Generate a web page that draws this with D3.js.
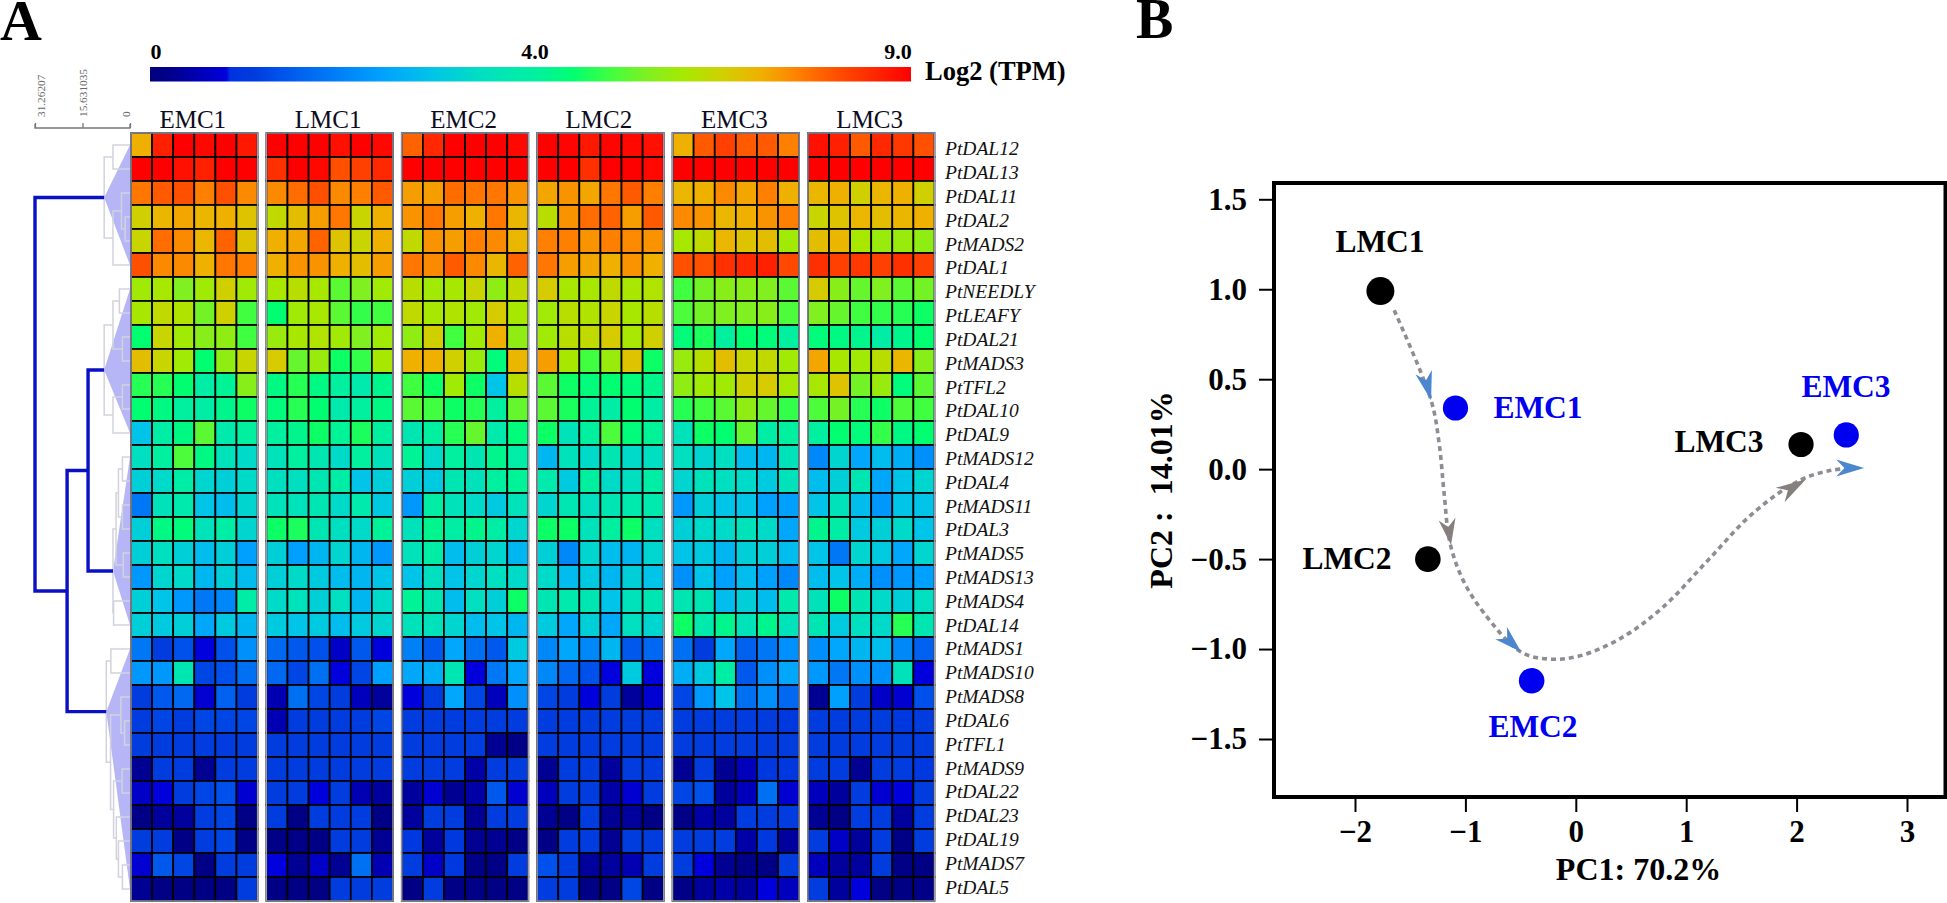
<!DOCTYPE html>
<html>
<head>
<meta charset="utf-8">
<title>Heatmap and PCA</title>
<script src="https://cdn.jsdelivr.net/npm/d3@7"></script>
<style>
  html, body { margin: 0; padding: 0; background: #fff; overflow: hidden; }
  text { font-family: "Liberation Serif", serif; }
</style>
</head>
<body>
<svg id="chart" width="1947" height="903"></svg>
<script>
const genes = ['PtDAL12', 'PtDAL13', 'PtDAL11', 'PtDAL2', 'PtMADS2', 'PtDAL1', 'PtNEEDLY', 'PtLEAFY', 'PtDAL21',
  'PtMADS3', 'PtTFL2', 'PtDAL10', 'PtDAL9', 'PtMADS12', 'PtDAL4', 'PtMADS11', 'PtDAL3', 'PtMADS5', 'PtMADS13',
  'PtMADS4', 'PtDAL14', 'PtMADS1', 'PtMADS10', 'PtMADS8', 'PtDAL6', 'PtTFL1', 'PtMADS9', 'PtDAL22', 'PtDAL23',
  'PtDAL19', 'PtMADS7', 'PtDAL5'];
const stages = ['EMC1', 'LMC1', 'EMC2', 'LMC2', 'EMC3', 'LMC3'];
const replicates = [0, 1, 2, 3, 4, 5];

// log2(TPM), one line per gene, 6 replicates per stage
const tpm = [
  [7, 8.6, 9, 8.9, 9, 8.7, 9, 9, 9, 8.8, 9, 8.9, 7.8, 8.5, 9, 9, 9, 8.9, 9, 8.95, 8.7, 8.95, 8.9, 8.8, 7, 7.9, 8.2, 7.9, 7.9, 7.5, 8.8, 8.6, 7.9, 8.5, 8.3, 8],
  [9, 9, 8.8, 8.6, 9, 9, 8.4, 9, 8.9, 8, 8.2, 8.5, 9, 9, 9, 9, 9, 9, 9, 9, 8.4, 9, 9, 8.9, 9, 9, 9, 9, 9, 9, 9, 9, 9, 9, 9, 9],
  [7.6, 7.9, 8, 7.5, 8, 7.4, 7.4, 7.7, 8, 7.4, 7.5, 7.9, 7.2, 7.2, 7.7, 7.6, 7.6, 7.3, 7.1, 7.3, 7.1, 7.6, 7.9, 7.5, 6.9, 7, 7.4, 7.1, 7.5, 7, 6.9, 7, 6.5, 6.9, 7, 6.5],
  [6.5, 6.9, 7.1, 6.9, 7, 6.7, 6.3, 6.8, 7.2, 7.6, 6.4, 7, 7.3, 7.6, 7.2, 7, 7.6, 6.9, 6.2, 7.3, 7.7, 7.8, 7.2, 7.9, 7.4, 7.3, 6.9, 7, 7.3, 7.5, 6.4, 6.7, 6.9, 6.8, 6.9, 7],
  [6.4, 7.7, 7.4, 6.9, 7.8, 6.7, 7, 7.1, 7.8, 6.7, 6.4, 7, 6.3, 7.3, 7.2, 7.5, 7.4, 6.9, 7.5, 7.5, 7.3, 7.5, 7.4, 7.3, 6, 6.3, 6.9, 6.7, 6.8, 5.9, 6.8, 6.9, 6, 5.8, 5.8, 5.7],
  [8, 7.4, 7.4, 7, 7.6, 7.5, 7, 7.3, 7.3, 7, 6.8, 7.2, 7.6, 7.4, 7.9, 7.4, 6.9, 7.8, 7.6, 7.2, 7.1, 7, 7.3, 7, 8, 8, 8.4, 8.5, 8.6, 8.1, 8.4, 8.2, 8.3, 8.2, 8.4, 8.2],
  [5.9, 6, 5.5, 5.9, 6.5, 5.9, 6, 6.2, 6, 5.2, 5.5, 5.9, 6.2, 5.9, 6, 6.4, 5.7, 6.3, 6.6, 6, 6, 6.3, 6, 6.1, 5, 5.4, 5.6, 5.6, 5.5, 5.2, 6.6, 5.6, 5.3, 5.5, 5.2, 5.4],
  [6, 6.3, 6.1, 5.4, 6.5, 5, 4.5, 5.9, 6, 5.2, 4.9, 5, 6.3, 6, 6.1, 5.9, 6.6, 6, 5.9, 6.2, 6.1, 6.4, 6, 6.2, 5.1, 5.4, 5.5, 5.5, 5.6, 5.1, 5.5, 5.3, 5, 4.9, 4.8, 4.6],
  [4.5, 6.4, 5.9, 5.6, 5.7, 5, 5.8, 6, 6.1, 5.9, 5.5, 5.9, 5.7, 6.5, 5, 5.9, 7, 5.7, 5.9, 6.2, 6.3, 6.6, 6, 6.5, 4.4, 4.7, 4, 4.5, 4.4, 4, 4.4, 4.3, 4.2, 3.9, 4.2, 4.5],
  [6.8, 6.4, 5.9, 4.5, 5.7, 6.4, 6.6, 5.3, 5.8, 4.6, 4.9, 6, 7, 7, 6.5, 5.8, 4.4, 6.9, 7.2, 6, 5, 5.8, 6.7, 4.6, 5.8, 6.2, 6.8, 6.4, 6.3, 5.9, 7.1, 6, 5.9, 6.2, 6.9, 5.6],
  [4.8, 4.8, 4.5, 3.9, 4.1, 5.6, 4.3, 4.8, 4.3, 4, 3.8, 4.2, 5, 4.6, 5.9, 4.6, 3, 6.2, 5.2, 4.6, 4.4, 4.5, 4.4, 4.2, 5.7, 5.9, 5.9, 6.5, 6.6, 6, 6, 6.7, 5.4, 5.8, 4.4, 5.2],
  [4.5, 4.3, 4, 3.9, 4.2, 4.6, 4.4, 4.8, 4.5, 3.8, 4, 4.3, 5.2, 5, 4.6, 4.8, 4, 5.3, 5.2, 4.7, 4.1, 3.9, 4.5, 3.9, 4.8, 5, 5.2, 5.7, 5.3, 4.9, 5.1, 5.4, 4.8, 4.6, 5.1, 5],
  [3, 3.9, 4.3, 5.2, 3.8, 4, 4, 4.2, 4.6, 4.1, 4.7, 4, 3.7, 4, 4.8, 5.3, 3.8, 4.4, 4.6, 3.6, 4, 5.1, 4.4, 4.1, 3.6, 4.6, 4.5, 5.3, 3.9, 4, 4, 4.5, 4.4, 4.9, 4.3, 4.5],
  [3.5, 4, 5.1, 4.3, 3.6, 3.4, 3.6, 4, 3.7, 3.4, 4, 3.6, 4.1, 3.4, 4, 3.7, 4.2, 3.9, 2.8, 3.6, 3.4, 3.7, 3.4, 3.5, 3.5, 3.3, 3.5, 2.9, 2.8, 3.6, 2.2, 3.3, 2.6, 2.9, 2.7, 2.3],
  [3.2, 3.4, 3.9, 3.3, 3.2, 3.4, 3.5, 3.5, 3.7, 3.9, 3, 3.2, 3.2, 3.1, 3.7, 3.6, 4, 4.1, 3.8, 3.1, 4, 3.4, 3.5, 3.9, 3.3, 3.6, 3.5, 3.4, 3.1, 3.6, 2.9, 3.2, 3.7, 2.6, 3, 3.3],
  [2, 3.6, 3.8, 3, 2.9, 3.3, 3.6, 3.6, 3.7, 3.4, 3.8, 3.1, 2.4, 3.9, 3.6, 3.4, 3.1, 3.6, 3.3, 3.7, 3.5, 3.7, 3.8, 3.8, 2.4, 3.2, 3, 3, 2.5, 2.5, 3, 3.6, 2.9, 2.4, 3, 3],
  [3.2, 4.3, 4.4, 3.6, 3.9, 3.3, 4.6, 4.7, 3.7, 3.5, 3.4, 4.1, 3.6, 4.2, 3.9, 4.2, 3.9, 3.3, 4.6, 4.6, 3.6, 4, 4.6, 3.5, 3.2, 3.4, 3.4, 3.6, 3.4, 2.6, 4.2, 3.9, 3.1, 3.2, 3.4, 3],
  [3.2, 3.5, 3.2, 2.9, 3.2, 2.5, 3.2, 2.5, 2.8, 3.3, 2.8, 2.4, 3.6, 3.9, 2.9, 3.2, 3.3, 2.8, 3.2, 2.2, 3.3, 2.9, 2.8, 3.3, 3, 3.1, 2.8, 3.2, 3.2, 2.9, 3, 2, 3.3, 3.1, 2.6, 3.3],
  [2.4, 3.3, 3.4, 2.8, 3.2, 2.9, 3.2, 3.4, 3.1, 2.9, 2.8, 3, 3, 3.5, 3, 3.3, 3.5, 3.4, 3.4, 2.9, 3.1, 2.8, 3.2, 3, 2.3, 3, 2.5, 2.9, 2.5, 2.2, 2.9, 3, 2.7, 2.3, 2.4, 2.5],
  [3.2, 3, 2.4, 2, 2.2, 3.9, 3.4, 3.6, 3.2, 3.5, 2.8, 3.4, 4.1, 3.7, 2.9, 3.5, 3.2, 4.6, 3.7, 3.8, 3.7, 3, 3.6, 3.7, 3.7, 3.7, 2.9, 3.2, 2.9, 3.8, 3.6, 4.6, 3.7, 3.4, 3.2, 3.5],
  [3.2, 3.1, 3.2, 2.6, 3.1, 2.8, 3.1, 3, 3.1, 2.9, 3.1, 3.3, 3.6, 3.6, 3.3, 2.9, 3, 2.8, 3.1, 2.6, 3.2, 2.6, 3.5, 3.3, 4.6, 3.8, 4.2, 3.6, 4.2, 3.6, 3.7, 3.1, 3.5, 3.4, 4.8, 3.7],
  [2, 1.3, 1.5, 1, 1.5, 2.3, 1.8, 1.6, 1.5, 0.8, 1.6, 1, 2.1, 1.6, 2.6, 1.9, 1.6, 3.1, 2.2, 2.6, 2.2, 2.8, 1.6, 1.8, 1.9, 1.3, 2.6, 1.7, 2, 2.3, 2.3, 2.6, 2.8, 2.9, 2.2, 1.7],
  [2.4, 2.4, 3.7, 1.4, 1.5, 1.9, 1.8, 1.4, 1.9, 1, 1.4, 2.5, 2.6, 2.7, 3.7, 1, 2, 2.6, 2.2, 1.8, 1.5, 1, 3.1, 1, 2.7, 3.1, 3.9, 1.6, 2.3, 2.6, 2.4, 2, 2.3, 2.3, 3.6, 1],
  [1.3, 1.6, 1.8, 0.9, 1.7, 1.3, 0.6, 1.9, 1.4, 1.3, 0.7, 0.4, 1, 1.3, 2.6, 1.4, 0.7, 2.3, 1.4, 1.3, 1, 1.3, 0.4, 0.9, 1.4, 2.4, 3, 1.9, 2.3, 1.8, 0.3, 2.5, 1.3, 0.8, 0.9, 1.5],
  [1.3, 1.4, 1.3, 1.4, 1.4, 1.4, 0.6, 1.3, 1.3, 1.3, 1.3, 1.4, 1.3, 1.3, 1.3, 1.3, 1.3, 1.3, 1.3, 1.3, 1.3, 1.3, 1.3, 1.3, 1.3, 1.3, 1.3, 1.3, 1.3, 1.2, 1.3, 1.3, 1.3, 1.3, 1.2, 1.3],
  [1.3, 1.3, 1.3, 1.3, 1.3, 1.3, 1.3, 1.3, 1.3, 1.3, 1.3, 1.3, 1.3, 1.3, 1.3, 1.3, 0.3, 0.2, 1.3, 1.3, 1.3, 1.3, 1.3, 1.3, 1.3, 1.3, 1.3, 1.3, 1.3, 1.3, 1.3, 1.3, 1.3, 1.3, 1.3, 1.3],
  [0.3, 1.3, 1.3, 0.3, 1.3, 1.3, 1.3, 1.3, 1.3, 1.3, 1.3, 1.3, 1.3, 1.3, 1.3, 0.5, 1.3, 1.3, 0.3, 1.3, 1.3, 0.4, 1.3, 1.3, 0.3, 1.3, 0.3, 0.7, 1.2, 1.2, 1.3, 1.3, 0.3, 1.3, 1.3, 1.2],
  [0.8, 1, 1.3, 1.4, 1.5, 0.9, 1.3, 1.3, 1, 1.3, 0.6, 0.4, 0.4, 0.9, 0.3, 0.5, 1.6, 0.9, 0.7, 1.3, 1.3, 0.5, 0.9, 1.3, 1.4, 1.5, 0.4, 0.7, 1.9, 0.9, 0.7, 0.4, 1.3, 0.9, 1, 1.3],
  [0.2, 0.4, 0.4, 1.3, 1.4, 0.2, 1.3, 0.2, 1.3, 1.3, 1.3, 0.2, 0.4, 1.3, 1.3, 0.3, 1.3, 1.3, 0.3, 0.2, 1.3, 0.3, 0.4, 0.1, 0.2, 0.5, 0.4, 1.3, 1.3, 1.3, 0.3, 0.1, 1.3, 1.3, 0.4, 1.3],
  [1.3, 1.3, 0.2, 1.3, 1.4, 0.2, 0.2, 0.2, 0.2, 1.3, 1.3, 0.3, 1.2, 0.4, 1.2, 0.3, 0.3, 0.2, 0.2, 1.3, 1.3, 0.3, 1.3, 1.3, 1.3, 1.3, 1.3, 0.5, 1.2, 0.4, 1.3, 0.8, 0.4, 1.3, 0.2, 1.3],
  [0.9, 1.6, 1.4, 0.2, 1.3, 1.3, 1, 0.3, 0.8, 0.3, 1.9, 0.6, 1.3, 0.8, 1.2, 0.2, 0.2, 1.3, 1.5, 1.3, 0.4, 0.4, 0.6, 1.3, 1.3, 1, 0.3, 0.2, 0.2, 1.3, 0.7, 0.4, 0.4, 1.3, 0.2, 0.1],
  [0.3, 0.1, 0.1, 0.1, 0.1, 1.3, 0.1, 0.1, 0.1, 1.3, 1.3, 1.3, 0.1, 1.3, 0.2, 0.2, 0.1, 0.1, 1.3, 1.3, 0.2, 0.2, 1.4, 0.1, 0.2, 0.4, 0.5, 0.4, 1, 0.7, 1.3, 0.4, 1, 0.1, 0.1, 0.2]
];

const colorValues = [0, 0.2, 1, 1.05, 1.3, 1.5, 2, 2.5, 3, 3.5, 4, 4.5, 5, 5.5, 6, 6.5, 7, 7.5, 8, 8.5, 9];
const colorRange = ['#000080', '#000087', '#0000dc', '#0032e1', '#003cde', '#0050eb', '#0078f5', '#00a0ff', '#00c4e8',
  '#00e0c0', '#00f0a0', '#00ff70', '#40ff40', '#80f020', '#a8e800', '#d0d000', '#f0b000', '#ff8000', '#ff5000', '#ff2800', '#ff0000'];
const legendTicks = [0, 4, 9];
const legendLabels = ['0', '4.0', '9.0'];

// dendrogram: [height, left, right], a plain number is a row in genes
const cluster1 = [8.5, [5.6, 0, 1], [5.6, [2.8, 2, [1.6, 3, 4]], 5]];
const cluster2 = [8.5, [5.6, [3.5, 6, 7], [2.5, 8, 9]], [5.6, [2.5, 10, 11], 12]];
const cluster3 = [5.6, [4.6, [3.8, [2.5, 13, 14], [2.5, 15, 16]], [2.2, 17, 18]], [5.4, 19, 20]];
const cluster4 = [7.8, [6.3, 21, 22], [6.4, [3, 23, [1.8, 24, 25]], [5.4, [2.6, 26, 27], [4.5, 28, [3.8, 29, [2.5, 30, 31]]]]]];
const dendroTree = [31.26207, cluster1, [20.7, [13.8, cluster2, cluster3], cluster4]];
const dendroTicks = [31.26207, 15.631035, 0];

// PCA panel
const pcaNames = ['LMC1', 'EMC1', 'LMC2', 'EMC2', 'LMC3', 'EMC3'];
const pc1 = [-1.77, -1.09, -1.34, -0.4, 2.04, 2.45];
const pc2 = [0.99, 0.34, -0.5, -1.176, 0.137, 0.19];
const pathPc1 = [-1.645, -1.311, -1.238, -1.193, -1.139, -1.021, -0.831, -0.495, -0.233, 0.03, 0.41, 0.79, 1.198, 1.606, 2.032, 2.32, 2.556];
const pathPc2 = [0.883, 0.383, 0.144, -0.133, -0.411, -0.617, -0.8, -1.017, -1.056, -1.039, -0.939, -0.767, -0.506, -0.244, -0.061, -0.006, 0.006];
const arrowTipPc1 = [-1.311, -1.13, -0.495, 2.085, 2.611];
const arrowTipPc2 = [0.383, -0.422, -1.017, -0.056, 0.006];
const arrowTailPc1 = [-1.378, -1.166, -0.676, 1.851, 2.358];
const arrowTailPc2 = [0.539, -0.278, -0.911, -0.144, 0.006];
const xTicks = [-2, -1, 0, 1, 2, 3];
const yTicks = [1.5, 1, 0.5, 0, -0.5, -1, -1.5];

const svg = d3.select('#chart');

// ---- panel letters
svg.append('text').attr('x', 0).attr('y', 40).attr('font-size', 58).attr('font-weight', 700).text('A');
svg.append('text').attr('x', 1136).attr('y', 38).attr('font-size', 56).attr('font-weight', 700).text('B');

// ---- heatmap
const color = d3.scaleLinear().domain(colorValues).range(colorRange).clamp(true);
const stageX = d3.scaleBand().domain(stages).range([131, 934.5]).paddingInner(0.065);
const cellX = d3.scaleBand().domain(replicates).range([0, stageX.bandwidth()]);
const rowY = d3.scaleBand().domain(genes).range([133, 901]);
const labelRowY = d3.scaleBand().domain(genes).range([137, 899]);

const heat = svg.append('g').attr('class', 'heat');

const stageG = heat.selectAll('g.stage')
  .data(stages)
  .join('g')
  .attr('class', 'stage')
  .attr('transform', d => `translate(${stageX(d)},0)`);

stageG.each(function (stage, s) {
  const g = d3.select(this);
  genes.forEach((gene, r) => {
    g.selectAll(null)
      .data(replicates)
      .join('rect')
      .attr('x', d => cellX(d))
      .attr('y', rowY(gene))
      .attr('width', cellX.bandwidth())
      .attr('height', rowY.bandwidth())
      .attr('fill', d => color(tpm[r][s * 6 + d]))
      .attr('stroke', '#000')
      .attr('stroke-width', 1.7);
  });
  g.append('rect')
    .attr('x', 0)
    .attr('y', rowY.range()[0])
    .attr('width', stageX.bandwidth())
    .attr('height', rowY.range()[1] - rowY.range()[0])
    .attr('fill', 'none')
    .attr('stroke', '#9a9cae')
    .attr('stroke-width', 1.4);
});

heat.selectAll('text.stage-label')
  .data(stages)
  .join('text')
  .attr('class', 'stage-label')
  .attr('x', d => stageX(d) + stageX.bandwidth() / 2 - 1.5)
  .attr('y', 127.5)
  .attr('text-anchor', 'middle')
  .attr('font-size', 25)
  .attr('fill', '#0c0c1e')
  .text(d => d);

heat.selectAll('text.gene-label')
  .data(genes)
  .join('text')
  .attr('class', 'gene-label')
  .attr('x', 945)
  .attr('y', d => labelRowY(d) + labelRowY.bandwidth() / 2 + 6.5)
  .attr('font-size', 19.5)
  .attr('font-style', 'italic')
  .attr('fill', '#111')
  .text(d => d);

// ---- colour legend
const barX = d3.scaleLinear().domain([0, 1.05, 4, 9]).range([150, 230, 535, 911]);
const gradient = svg.append('defs').append('linearGradient').attr('id', 'legend-gradient');
colorValues.forEach((v, i) => {
  gradient.append('stop')
    .attr('offset', (barX(v) - 150) / 761)
    .attr('stop-color', colorRange[i]);
});

svg.append('rect')
  .attr('x', barX(0))
  .attr('y', 67)
  .attr('width', barX(9) - barX(0))
  .attr('height', 14.5)
  .attr('fill', 'url(#legend-gradient)');

svg.selectAll('text.legend-label')
  .data(legendTicks)
  .join('text')
  .attr('class', 'legend-label')
  .attr('x', (d, i) => [156, 535, 898][i])
  .attr('y', 59)
  .attr('text-anchor', 'middle')
  .attr('font-size', 22)
  .attr('font-weight', 700)
  .text((d, i) => legendLabels[i]);

svg.append('text')
  .attr('x', 925)
  .attr('y', 80)
  .attr('font-size', 26.5)
  .attr('font-weight', 700)
  .text('Log2 (TPM)');

// ---- dendrogram
const dendroX = d3.scaleLinear().domain([0, 31.26207]).range([130, 35]);
const root = d3.hierarchy(dendroTree, d => Array.isArray(d) ? d.slice(1) : null);

root.eachAfter(n => {
  if (n.children) {
    n.h = n.data[0];
    n.py = d3.mean(n.children, c => c.py);
  } else {
    n.h = 0;
    n.py = rowY(genes[n.data]) + rowY.bandwidth() / 2;
  }
});

const isBlue = n => n.h >= 13.8;
const clusterRoots = root.descendants().filter(n => [cluster1, cluster2, cluster3, cluster4].indexOf(n.data) >= 0);

const dendro = svg.insert('g', '.heat').attr('class', 'dendro');

dendro.selectAll('path.wedge')
  .data(clusterRoots)
  .join('path')
  .attr('class', 'wedge')
  .attr('fill', '#b6b6f6')
  .attr('d', n => {
    const ys = n.leaves().map(l => l.py);
    return `M${dendroX(n.h)},${n.py}L${dendroX(0)},${d3.min(ys)}L${dendroX(0)},${d3.max(ys)}Z`;
  });

const elbow = n => {
  const x = dendroX(n.h);
  const [a, b] = n.children;
  return `M${dendroX(a.h)},${a.py}H${x}V${b.py}H${dendroX(b.h)}`;
};
const inner = root.descendants().filter(n => n.children);

dendro.selectAll('path.branch')
  .data(inner.filter(n => !isBlue(n)))
  .join('path')
  .attr('class', 'branch')
  .attr('fill', 'none')
  .attr('stroke', '#d2d2de')
  .attr('stroke-width', 1.5)
  .attr('d', elbow);

dendro.selectAll('path.trunk')
  .data(inner.filter(isBlue))
  .join('path')
  .attr('class', 'trunk')
  .attr('fill', 'none')
  .attr('stroke', '#0a10c4')
  .attr('stroke-width', 3.4)
  .attr('d', elbow);

const dendroAxis = d3.axisTop(dendroX).tickValues(dendroTicks).tickSize(5).tickFormat(d => d);
const dendroG = svg.append('g')
  .attr('transform', 'translate(0,128)')
  .call(dendroAxis);
dendroG.selectAll('path,line').attr('stroke', '#777').attr('stroke-width', 1.3);
dendroG.select('.domain').attr('d', `M${dendroX.range()[1]},-4V0H${dendroX.range()[0]}V-4`);
dendroG.selectAll('text')
  .attr('font-family', '"Liberation Sans", sans-serif')
  .attr('font-size', 11.3)
  .attr('fill', '#666')
  .attr('text-anchor', 'start')
  .attr('dy', 0)
  .attr('y', 0)
  .attr('transform', (d, i) => `translate(${[9, 3.5, -1][i]},-11) rotate(-90)`);

// ---- PCA
const frame = { left: 1274, right: 1945.5, top: 183, bottom: 797 };
const x = d3.scaleLinear().domain([-2, 3]).range([1355, 1907]);
const y = d3.scaleLinear().domain([1.5, -1.5]).range([199.3, 739]);

const pca = svg.append('g').attr('class', 'pca');

pca.append('g')
  .attr('transform', `translate(0,${frame.bottom})`)
  .call(d3.axisBottom(x).tickValues(xTicks).tickSize(15).tickPadding(8).tickFormat(d3.format('d')))
  .call(styleAxis);

pca.append('g')
  .attr('transform', `translate(${frame.left},0)`)
  .call(d3.axisLeft(y).tickValues(yTicks).tickSize(15).tickPadding(12).tickFormat(d3.format('.1f')))
  .call(styleAxis);

function styleAxis(g) {
  g.select('.domain').remove();
  g.selectAll('line').attr('stroke', '#000').attr('stroke-width', 2);
  g.selectAll('text').attr('font-family', '"Liberation Serif", serif').attr('font-size', 31).attr('font-weight', 700).attr('fill', '#000');
}

pca.append('rect')
  .attr('x', frame.left)
  .attr('y', frame.top)
  .attr('width', frame.right - frame.left)
  .attr('height', frame.bottom - frame.top)
  .attr('fill', 'none')
  .attr('stroke', '#000')
  .attr('stroke-width', 4);

const trajectory = d3.line()
  .x(d => x(d[0]))
  .y(d => y(d[1]))
  .curve(d3.curveCatmullRom);

pca.append('path')
  .attr('d', trajectory(d3.zip(pathPc1, pathPc2)))
  .attr('fill', 'none')
  .attr('stroke', '#8f8c94')
  .attr('stroke-width', 3.6)
  .attr('stroke-dasharray', '5 4');

const arrowColors = ['#4a87cf', '#85807e', '#4a87cf', '#85807e', '#4a87cf'];
pca.selectAll('path.arrow')
  .data(arrowTipPc1.map((d, i) => i))
  .join('path')
  .attr('class', 'arrow')
  .attr('fill', i => arrowColors[i])
  .attr('d', i => {
    const tx = x(arrowTipPc1[i]), ty = y(arrowTipPc2[i]);
    const bx = x(arrowTailPc1[i]), by = y(arrowTailPc2[i]);
    const len = Math.hypot(tx - bx, ty - by);
    const ux = (tx - bx) / len, uy = (ty - by) / len;
    const w = 8.5;
    return `M${tx},${ty}L${bx - uy * w},${by + ux * w}L${bx + ux * len * 0.3},${by + uy * len * 0.3}L${bx + uy * w},${by - ux * w}Z`;
  });

const pointRadius = [14, 12.6, 12.8, 12.8, 12.6, 12.6];
const labelX = [1380, 1538, 1347, 1533, 1719, 1846];
const labelY = [252, 418, 569, 737, 452, 397];
const pointColor = d => d[0] === 'E' ? '#0000f0' : '#000';

pca.selectAll('circle')
  .data(pcaNames)
  .join('circle')
  .attr('cx', (d, i) => x(pc1[i]))
  .attr('cy', (d, i) => y(pc2[i]))
  .attr('r', (d, i) => pointRadius[i])
  .attr('fill', pointColor);

pca.selectAll('text.point-label')
  .data(pcaNames)
  .join('text')
  .attr('class', 'point-label')
  .attr('x', (d, i) => labelX[i])
  .attr('y', (d, i) => labelY[i])
  .attr('text-anchor', 'middle')
  .attr('font-size', 31.5)
  .attr('font-weight', 700)
  .attr('fill', pointColor)
  .text(d => d);

pca.append('text')
  .attr('x', 1638.5)
  .attr('y', 880)
  .attr('text-anchor', 'middle')
  .attr('font-size', 32)
  .attr('font-weight', 700)
  .text('PC1: 70.2%');

pca.append('text')
  .attr('transform', 'translate(1172,490) rotate(-90)')
  .attr('text-anchor', 'middle')
  .attr('font-size', 32)
  .attr('font-weight', 700)
  .attr('xml:space', 'preserve')
  .style('white-space', 'pre')
  .text('PC2 :  14.01%');
</script>
</body>
</html>
